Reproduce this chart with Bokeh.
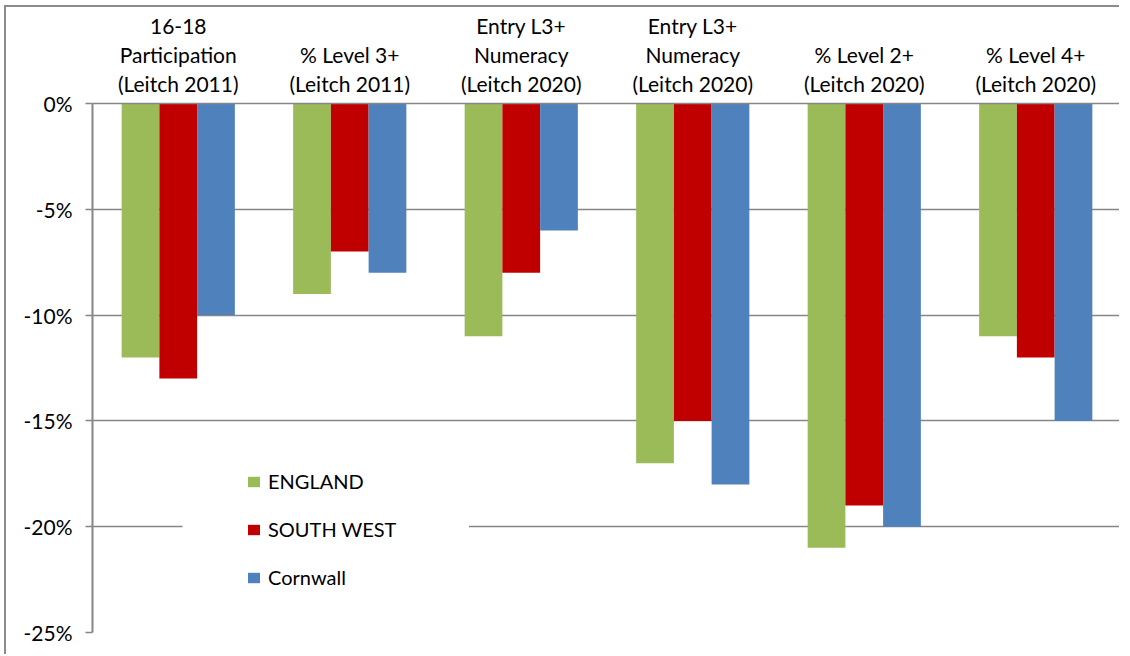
from bokeh.plotting import figure
from bokeh.models import (Range1d, FixedTicker, PrintfTickFormatter,
                          Legend, LegendItem, BoxAnnotation, ColumnDataSource)
from bokeh.transform import dodge
from bokeh.embed import file_html
from bokeh.resources import INLINE

# ---- data ----
cat_labels = [
    "16-18\nParticipation\n(Leitch 2011)",
    "% Level 3+\n(Leitch 2011)",
    "Entry L3+\nNumeracy\n(Leitch 2020)",
    "Entry L3+\nNumeracy\n(Leitch 2020)",
    "% Level 2+\n(Leitch 2020)",
    "% Level 4+\n(Leitch 2020)",
]
series_names = ["ENGLAND", "SOUTH WEST", "Cornwall"]
england = [-12, -9, -11, -17, -21, -11]
south_west = [-13, -7, -8, -15, -19, -12]
cornwall = [-10, -8, -6, -18, -20, -15]
y_ticks = [-25, -20, -15, -10, -5, 0]

colors = ["#9BBB59", "#C00000", "#4F81BD"]
FONT = "Lato"
GRID = "#868686"

n = len(cat_labels)
centers = [i + 0.5 for i in range(n)]
source = ColumnDataSource(data=dict(xc=centers, england=england,
                                    south_west=south_west, cornwall=cornwall))

p = figure(width=1115, height=649,
           x_range=Range1d(0, n), y_range=Range1d(-25, 0),
           output_backend="svg", toolbar_location=None,
           x_axis_location="above",
           min_border_left=86, min_border_top=96,
           min_border_bottom=24, min_border_right=0)
p.styles = {"border-top": "2px solid #8c8c8c", "border-left": "2px solid #8c8c8c",
            "margin-left": "4px", "margin-top": "5px"}
p.outline_line_color = None
p.background_fill_color = "white"
p.border_fill_color = "white"

# x axis (category labels above the zero line)
xa = p.xaxis[0]
xa.ticker = FixedTicker(ticks=centers)
xa.major_label_overrides = {c: lab for c, lab in zip(centers, cat_labels)}
xa.major_tick_line_color = None
xa.minor_tick_line_color = None
xa.axis_line_color = GRID
xa.axis_line_width = 1.5
xa.major_label_text_font = FONT
xa.major_label_text_font_size = "21px"
xa.major_label_text_color = "#000000"
xa.major_label_text_line_height = 1.15
xa.major_label_standoff = 2
xa.major_label_orientation = "horizontal"

# y axis
ya = p.yaxis[0]
ya.ticker = FixedTicker(ticks=y_ticks)
ya.formatter = PrintfTickFormatter(format="%d%%")
ya.axis_line_color = GRID
ya.axis_line_width = 2
ya.major_tick_line_color = GRID
ya.major_tick_line_width = 1.5
ya.major_tick_out = 7
ya.major_tick_in = 0
ya.minor_tick_line_color = None
ya.major_label_text_font = FONT
ya.major_label_text_font_size = "21px"
ya.major_label_text_color = "#000000"
ya.major_label_standoff = 13

p.xgrid.grid_line_color = None
p.ygrid.ticker = FixedTicker(ticks=y_ticks)
p.ygrid.grid_line_color = GRID
p.ygrid.grid_line_width = 1.5

bw = 0.22
offsets = [-bw, 0.0, bw]
fields = ["england", "south_west", "cornwall"]
renderers = []
for f, off, c in zip(fields, offsets, colors):
    r = p.vbar(x=dodge("xc", off), width=bw, top=0, bottom=f,
               source=source, fill_color=c, line_color=None)
    renderers.append(r)

# white legend background that breaks the gridline
p.add_layout(BoxAnnotation(left=0.525, right=2.195, top=-16.3, bottom=-24,
                           fill_color="white", fill_alpha=1.0, line_color=None))

legend = Legend(items=[LegendItem(label=nm, renderers=[r]) for nm, r in zip(series_names, renderers)],
                location=(154, 43), background_fill_alpha=0, border_line_color=None,
                padding=0, margin=0, spacing=24, glyph_width=15, glyph_height=13,
                label_standoff=7, label_text_font=FONT, label_text_font_size="20px",
                label_text_color="#000000")
p.add_layout(legend)

open("out.html", "w").write(file_html(p, INLINE))
